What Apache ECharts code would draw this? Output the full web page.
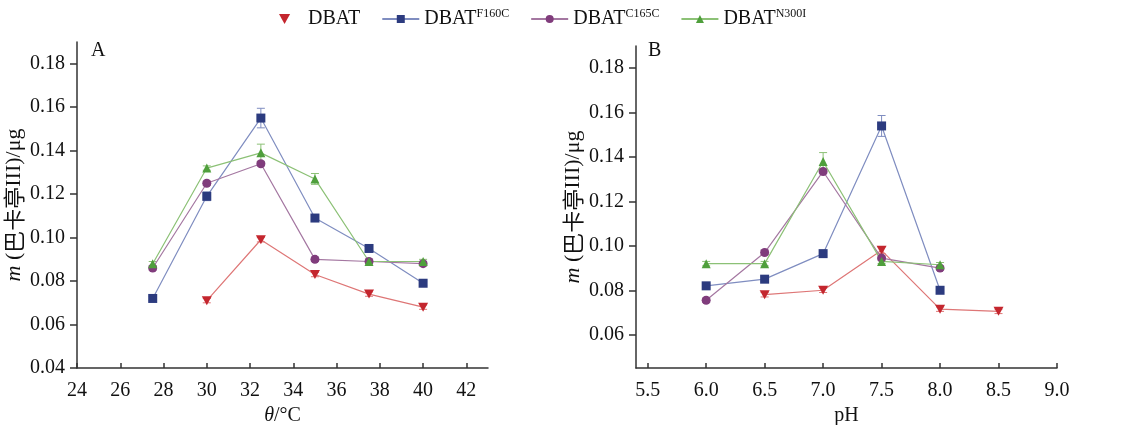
<!DOCTYPE html>
<html>
<head>
<meta charset="utf-8">
<script src="https://cdn.jsdelivr.net/npm/echarts@6/dist/echarts.min.js"></script>
<style>
	html, body { margin: 0; padding: 0; background: #fff; }
	#main { width: 1122px; height: 425px; }
</style>
</head>
<body>
<div id="main"></div>
<script>
// 温度 (A)
var tempX = [27.5, 30, 32.5, 35, 37.5, 40];
var tDBAT = [null, 0.071, 0.099, 0.083, 0.074, 0.068];
var tF160C = [0.072, 0.119, 0.155, 0.109, 0.095, 0.079];
var tC165C = [0.086, 0.125, 0.134, 0.090, 0.089, 0.088];
var tN300I = [0.088, 0.132, 0.139, 0.127, 0.089, 0.089];
var tErrDBAT = [0, 0.001, 0.001, 0.001, 0.001, 0.001];
var tErrF160C = [0.001, 0.002, 0.0045, 0.001, 0.001, 0.001];
var tErrC165C = [0.001, 0.001, 0.001, 0.001, 0.001, 0.001];
var tErrN300I = [0.001, 0.001, 0.004, 0.0025, 0.001, 0.001];
// pH (B)
var phX = [6.0, 6.5, 7.0, 7.5, 8.0, 8.5];
var pDBAT = [null, 0.078, 0.080, 0.098, 0.0715, 0.0705];
var pF160C = [0.082, 0.085, 0.0965, 0.154, 0.080, null];
var pC165C = [0.0755, 0.097, 0.1335, 0.0945, 0.090, null];
var pN300I = [0.092, 0.092, 0.138, 0.093, 0.0915, null];
var pErrDBAT = [0, 0.001, 0.001, 0.0015, 0.001, 0.001];
var pErrF160C = [0.001, 0.001, 0.001, 0.0047, 0.001, 0];
var pErrC165C = [0.001, 0.001, 0.001, 0.001, 0.001, 0];
var pErrN300I = [0.001, 0.001, 0.004, 0.001, 0.001, 0];
// 刻度
var tempTicks = [24, 26, 28, 30, 32, 34, 36, 38, 40, 42];
var phTicks = [5.5, 6.0, 6.5, 7.0, 7.5, 8.0, 8.5, 9.0];
var yTicksA = [0.04, 0.06, 0.08, 0.10, 0.12, 0.14, 0.16, 0.18];
var yTicksB = [0.06, 0.08, 0.10, 0.12, 0.14, 0.16, 0.18];

var names = ['DBAT', 'DBAT_F160C', 'DBAT_C165C', 'DBAT_N300I'];
var sups = ['', 'F160C', 'C165C', 'N300I'];
var markColor = ['#c4262e', '#2c3b7f', '#803c7c', '#4f9f3c'];
var lineColor = ['#de7676', '#7f8dc0', '#a477a1', '#8cc176'];
var symbols = ['path://M0,0 L10,0 L5,9 Z', 'rect', 'circle', 'triangle'];
var font = 'Liberation Serif, Times New Roman, serif';
var axisColor = '#333';

function pairs(xs, ys) {
	var out = [];
	for (var i = 0; i < xs.length; i++) {
		if (ys[i] != null) out.push([xs[i], ys[i]]);
	}
	return out;
}
function errPairs(xs, ys, es) {
	var out = [];
	for (var i = 0; i < xs.length; i++) {
		if (ys[i] != null && es[i] > 0) out.push([xs[i], ys[i], es[i]]);
	}
	return out;
}

function errRender(color) {
	return function(params, api) {
		var x = api.value(0), y = api.value(1), e = api.value(2);
		var top = api.coord([x, y + e]);
		var bot = api.coord([x, y - e]);
		var w = 4;
		return {
			type: 'group',
			children: [
				{ type: 'line', shape: { x1: top[0], y1: top[1], x2: bot[0], y2: bot[1] }, style: { stroke: color, lineWidth: 1 } },
				{ type: 'line', shape: { x1: top[0] - w, y1: top[1], x2: top[0] + w, y2: top[1] }, style: { stroke: color, lineWidth: 1 } },
				{ type: 'line', shape: { x1: bot[0] - w, y1: bot[1], x2: bot[0] + w, y2: bot[1] }, style: { stroke: color, lineWidth: 1 } }
			]
		};
	};
}

function xAxisOf(idx, min, max, ticks, digits, nameRich) {
	return {
		gridIndex: idx,
		type: 'value',
		min: min,
		max: max,
		name: nameRich,
		nameLocation: 'middle',
		nameGap: 36,
		nameTextStyle: {
			fontFamily: font, fontSize: 20, color: '#111',
			rich: { i: { fontFamily: font, fontSize: 20, fontStyle: 'italic', color: '#111' } }
		},
		axisLine: { lineStyle: { color: axisColor, width: 1.5 } },
		axisTick: { inside: true, length: 5, customValues: ticks, lineStyle: { color: axisColor, width: 1.5 } },
		axisLabel: {
			customValues: ticks, margin: 13, fontFamily: font, fontSize: 20, color: '#111',
			formatter: function(v) { return Number(v).toFixed(digits); }
		},
		splitLine: { show: false }
	};
}

function yAxisOf(idx, min, max, ticks, gap) {
	return {
		gridIndex: idx,
		type: 'value',
		min: min,
		max: max,
		name: '{i|m}{n| (}{c|巴卡亭}{n|III)/μg}',
		nameLocation: 'middle',
		nameGap: gap,
		nameTextStyle: {
			rich: {
				i: { fontFamily: font, fontSize: 22, fontStyle: 'italic', color: '#111' },
				n: { fontFamily: font, fontSize: 22, color: '#111' },
				c: { fontFamily: 'Noto Sans CJK SC', fontSize: 22, color: '#111' }
			}
		},
		axisLine: { show: true, lineStyle: { color: axisColor, width: 1.5 } },
		axisTick: { show: true, length: 7, customValues: ticks, lineStyle: { color: axisColor, width: 1.5 } },
		axisLabel: {
			customValues: ticks, margin: 12, fontFamily: font, fontSize: 20, color: '#111',
			formatter: function(v) { return Number(v).toFixed(2); }
		},
		splitLine: { show: false }
	};
}

var temp = [tDBAT, tF160C, tC165C, tN300I];
var tempErr = [tErrDBAT, tErrF160C, tErrC165C, tErrN300I];
var ph = [pDBAT, pF160C, pC165C, pN300I];
var phErr = [pErrDBAT, pErrF160C, pErrC165C, pErrN300I];

var series = [];
// 误差线先画
for (var k = 0; k < 4; k++) {
	series.push({
		type: 'custom', xAxisIndex: 0, yAxisIndex: 0, silent: true, z: 1,
		renderItem: errRender(lineColor[k]), data: errPairs(tempX, temp[k], tempErr[k])
	});
	series.push({
		type: 'custom', xAxisIndex: 1, yAxisIndex: 1, silent: true, z: 1,
		renderItem: errRender(lineColor[k]), data: errPairs(phX, ph[k], phErr[k])
	});
}
for (var k = 0; k < 4; k++) {
	var base = {
		name: names[k],
		type: 'line',
		symbol: symbols[k],
		symbolSize: k == 0 ? [10, 9] : 9,
		showAllSymbol: true,
		z: 3,
		itemStyle: { color: markColor[k], borderWidth: 0 },
		lineStyle: { color: lineColor[k], width: 1.2 },
		emphasis: { disabled: true },
		animation: false
	};
	series.push(Object.assign({}, base, { xAxisIndex: 0, yAxisIndex: 0, data: pairs(tempX, temp[k]) }));
	series.push(Object.assign({}, base, { xAxisIndex: 1, yAxisIndex: 1, data: pairs(phX, ph[k]) }));
}

var myChart = echarts.init(document.getElementById('main'), null, { renderer: 'canvas' });
var option = {
	backgroundColor: '#fff',
	animation: false,
	title: [
		{ text: 'A', left: 86, top: 36, textStyle: { fontFamily: font, fontSize: 20, fontWeight: 'normal', color: '#111' } },
		{ text: 'B', left: 643, top: 36, textStyle: { fontFamily: font, fontSize: 20, fontWeight: 'normal', color: '#111' } }
	],
	legend: {
		left: 274,
		top: 3,
		itemWidth: 37,
		itemHeight: 10,
		itemGap: 21,
		data: [
			{ name: names[0], icon: symbols[0], itemStyle: { color: markColor[0] } },
			{ name: names[1] },
			{ name: names[2] },
			{ name: names[3] }
		],
		formatter: function(name) {
			var i = names.indexOf(name);
			return sups[i] ? '{b|DBAT}{s|' + sups[i] + '}' : '{b|DBAT}';
		},
		textStyle: {
			rich: {
				b: { fontFamily: font, fontSize: 20, color: '#111', lineHeight: 22 },
				s: { fontFamily: font, fontSize: 12, color: '#111', verticalAlign: 'top', lineHeight: 22 }
			}
		}
	},
	grid: [
		{ left: 77, top: 42, width: 411, height: 326, outerBoundsMode: 'none' },
		{ left: 636, top: 46, width: 421, height: 322, outerBoundsMode: 'none' }
	],
	xAxis: [
		xAxisOf(0, 24, 43, tempTicks, 0, '{i|θ}/°C'),
		xAxisOf(1, 5.4, 9.0, phTicks, 1, 'pH')
	],
	yAxis: [
		yAxisOf(0, 0.04, 0.19, yTicksA, 52),
		yAxisOf(1, 0.045, 0.19, yTicksB, 52)
	],
	series: series
};
myChart.setOption(option);
</script>
</body>
</html>
